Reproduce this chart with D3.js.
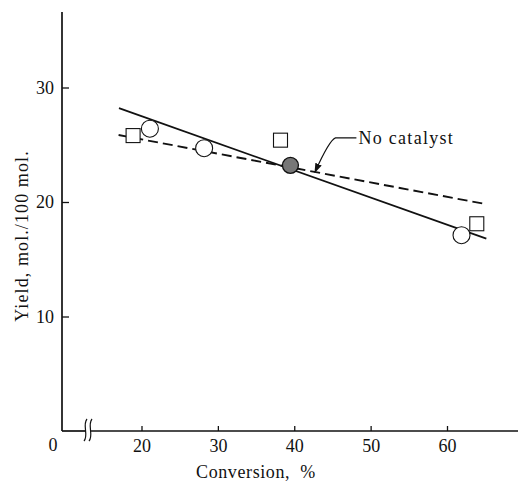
<!DOCTYPE html>
<html>
<head>
<meta charset="utf-8">
<script src="https://cdn.jsdelivr.net/npm/d3@7"></script>
<style>
  body { margin: 0; background: #fff; }
  text { font-family: "Liberation Serif", serif; fill: #111; }
</style>
</head>
<body>
<div id="chart"></div>
<script>
// data (conversion %, yield mol./100 mol.)
var openCircles = [[21.1, 26.4], [28.2, 24.7], [61.9, 17.1]];
var filledCircles = [[39.5, 23.2]];
var squares = [[18.9, 25.8], [38.2, 25.4], [63.9, 18.1]];
var solidLine = [[17.05, 28.2], [65.15, 16.8]];
var dashedLine = [[17.0, 25.85], [65.2, 19.8]];
var xTicks = [20, 30, 40, 50, 60];
var yTicks = [10, 20, 30];
var annot = {label: "No catalyst", text: [48.4, 25.6], bend: [45.4, 25.6], tip: [42.7, 22.6]};

var W = 520, H = 482;

var svg = d3.select("#chart").append("svg")
    .attr("width", W)
    .attr("height", H);

var x = d3.scaleLinear().domain([20, 60]).range([141.5, 447]);
var y = d3.scaleLinear().domain([0, 30]).range([431, 87.5]);

var axisX0 = 62, axisXEnd = 518, axisYTop = 12;

svg.append("defs").append("marker")
    .attr("id", "arr")
    .attr("viewBox", "0 0 10 10")
    .attr("refX", 9).attr("refY", 5)
    .attr("markerWidth", 9).attr("markerHeight", 9)
    .attr("orient", "auto")
  .append("path")
    .attr("d", "M0,1.5 L10,5 L0,8.5 Z")
    .attr("fill", "#111");

// y axis
var gy = svg.append("g")
    .attr("transform", "translate(" + axisX0 + ",0)")
    .call(d3.axisLeft(y).tickValues(yTicks).tickSize(-7).tickPadding(8));
gy.select(".domain").remove();
gy.selectAll("line").attr("stroke", "#111").attr("stroke-width", 1.3);
gy.selectAll("text").style("font-size", "18px").style("font-family", "Liberation Serif").attr("fill", "#111");

svg.append("line")
    .attr("x1", axisX0).attr("x2", axisX0)
    .attr("y1", axisYTop).attr("y2", y(0))
    .attr("stroke", "#111").attr("stroke-width", 1.7);

// x axis (broken near the origin)
var gx = svg.append("g")
    .attr("transform", "translate(0," + y(0) + ")")
    .call(d3.axisBottom(x).tickValues(xTicks).tickSize(-5).tickPadding(8));
gx.select(".domain").remove();
gx.selectAll("line").attr("stroke", "#111").attr("stroke-width", 1.3);
gx.selectAll("text").style("font-size", "18px").style("font-family", "Liberation Serif").attr("fill", "#111");

svg.append("line")
    .attr("x1", axisX0).attr("x2", 85)
    .attr("y1", y(0)).attr("y2", y(0))
    .attr("stroke", "#111").attr("stroke-width", 1.7);
svg.append("line")
    .attr("x1", 91).attr("x2", axisXEnd)
    .attr("y1", y(0)).attr("y2", y(0))
    .attr("stroke", "#111").attr("stroke-width", 1.7);

[85, 90].forEach(function(bx) {
  svg.append("path")
      .attr("d", "M" + (bx + 2) + "," + (y(0) - 12) +
                 " C" + (bx - 3) + "," + (y(0) - 6) + " " + (bx + 4) + "," + (y(0) + 4) +
                 " " + (bx - 1) + "," + (y(0) + 10))
      .attr("fill", "none").attr("stroke", "#111").attr("stroke-width", 1.2);
});

svg.append("text")
    .attr("x", 53).attr("y", y(0) + 20)
    .attr("text-anchor", "middle")
    .style("font-size", "18px")
    .text("0");

// axis titles
svg.append("text")
    .attr("transform", "translate(22,236) rotate(-90)")
    .attr("text-anchor", "middle")
    .attr("dy", "0.35em")
    .style("font-size", "18px")
    .style("letter-spacing", "1.1px")
    .text("Yield, mol./100 mol.");

svg.append("text")
    .attr("x", 256).attr("y", 478)
    .attr("text-anchor", "middle")
    .style("font-size", "18px")
    .style("letter-spacing", "0.6px")
    .text("Conversion,\u00a0\u00a0%");

// fitted lines
var line = d3.line()
    .x(function(d) { return x(d[0]); })
    .y(function(d) { return y(d[1]); });

svg.append("path")
    .datum(solidLine)
    .attr("d", line)
    .attr("fill", "none").attr("stroke", "#111").attr("stroke-width", 1.7);

svg.append("path")
    .datum(dashedLine)
    .attr("d", line)
    .attr("fill", "none").attr("stroke", "#111").attr("stroke-width", 1.9)
    .attr("stroke-dasharray", "10,5");

// points
svg.append("g").selectAll("rect")
    .data(squares)
    .enter().append("rect")
      .attr("x", function(d) { return x(d[0]) - 7; })
      .attr("y", function(d) { return y(d[1]) - 7; })
      .attr("width", 14).attr("height", 14)
      .attr("fill", "#fff").attr("stroke", "#111").attr("stroke-width", 1.1);

svg.append("g").selectAll("circle")
    .data(openCircles)
    .enter().append("circle")
      .attr("cx", function(d) { return x(d[0]); })
      .attr("cy", function(d) { return y(d[1]); })
      .attr("r", 8.5)
      .attr("fill", "#fff").attr("stroke", "#111").attr("stroke-width", 1.1);

svg.append("g").selectAll("circle")
    .data(filledCircles)
    .enter().append("circle")
      .attr("cx", function(d) { return x(d[0]); })
      .attr("cy", function(d) { return y(d[1]); })
      .attr("r", 8)
      .attr("fill", "#777").attr("stroke", "#111").attr("stroke-width", 1.3);

// annotation
var bx = x(annot.bend[0]), by = y(annot.bend[1]),
    tx = x(annot.tip[0]), ty = y(annot.tip[1]);
svg.append("path")
    .attr("d", "M" + (x(annot.text[0]) - 2) + "," + by + " L" + bx + "," + by +
               " Q" + (bx - 6) + "," + (by + 2) + " " + tx + "," + ty)
    .attr("fill", "none").attr("stroke", "#111").attr("stroke-width", 1.1)
    .attr("marker-end", "url(#arr)");

svg.append("text")
    .attr("x", x(annot.text[0])).attr("y", y(annot.text[1]))
    .attr("dy", "0.35em")
    .style("font-size", "18px")
    .style("letter-spacing", "1.3px")
    .text(annot.label);
</script>
</body>
</html>
